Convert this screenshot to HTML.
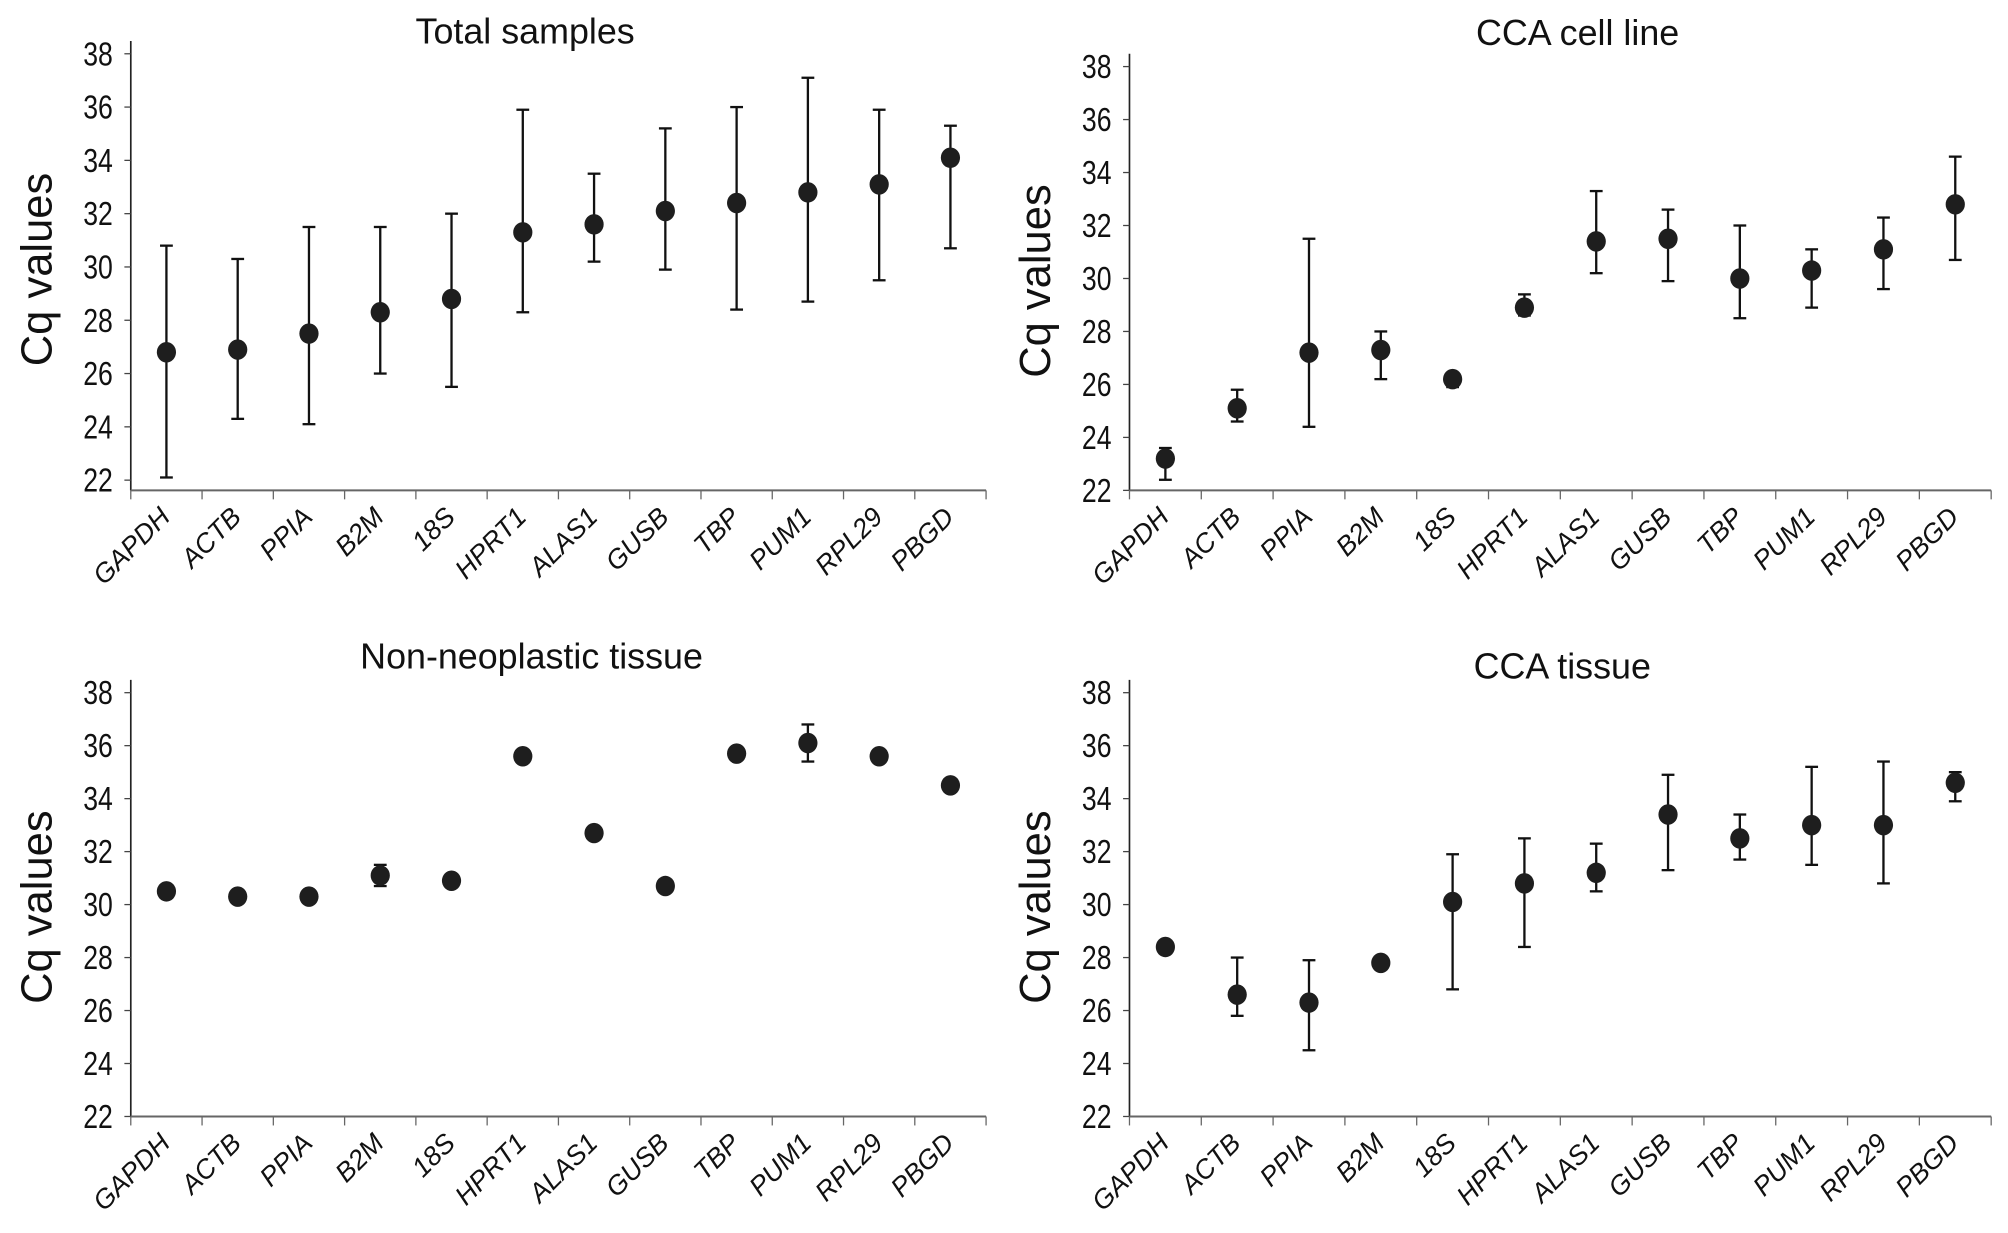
<!DOCTYPE html>
<html><head><meta charset="utf-8"><style>
html,body{margin:0;padding:0;background:#fff;}
svg{display:block;font-family:"Liberation Sans",sans-serif;}
</style></head><body>
<svg id="chart" width="2008" height="1233" viewBox="0 0 1568 963" xmlns="http://www.w3.org/2000/svg"></svg>
<script>
const categories = ["GAPDH","ACTB","PPIA","B2M","18S","HPRT1","ALAS1","GUSB","TBP","PUM1","RPL29","PBGD"];
const yTicks = [22,24,26,28,30,32,34,36,38];
const totalMean = [26.8,26.9,27.5,28.3,28.8,31.3,31.6,32.1,32.4,32.8,33.1,34.1];
const totalLow  = [22.1,24.3,24.1,26.0,25.5,28.3,30.2,29.9,28.4,28.7,29.5,30.7];
const totalHigh = [30.8,30.3,31.5,31.5,32.0,35.9,33.5,35.2,36.0,37.1,35.9,35.3];
const cellMean = [23.2,25.1,27.2,27.3,26.2,28.9,31.4,31.5,30.0,30.3,31.1,32.8];
const cellLow  = [22.4,24.6,24.4,26.2,25.9,28.6,30.2,29.9,28.5,28.9,29.6,30.7];
const cellHigh = [23.6,25.8,31.5,28.0,26.4,29.4,33.3,32.6,32.0,31.1,32.3,34.6];
const nonMean = [30.5,30.3,30.3,31.1,30.9,35.6,32.7,30.7,35.7,36.1,35.6,34.5];
const nonLow  = [30.5,30.3,30.3,30.7,30.9,35.6,32.7,30.7,35.7,35.4,35.6,34.5];
const nonHigh = [30.5,30.3,30.3,31.5,30.9,35.6,32.7,30.7,35.7,36.8,35.6,34.5];
const tisMean = [28.4,26.6,26.3,27.8,30.1,30.8,31.2,33.4,32.5,33.0,33.0,34.6];
const tisLow  = [28.4,25.8,24.5,27.8,26.8,28.4,30.5,31.3,31.7,31.5,30.8,33.9];
const tisHigh = [28.4,28.0,27.9,27.8,31.9,32.5,32.3,34.9,33.4,35.2,35.4,35.0];

const NS="http://www.w3.org/2000/svg";
const svg=document.getElementById('chart');
function mk(tag,attrs,parent){const e=document.createElementNS(NS,tag);for(const k in attrs)e.setAttribute(k,attrs[k]);(parent||svg).appendChild(e);return e;}

function panel(key,title,titleX,titleY,x0,x1,y38,y22,axisY,mean,low,high){
  const g=mk('g',{});
  
  
  const yS=v=>y22+(v-22)*(y38-y22)/16;
  const band=(x1-x0)/categories.length;
  const xS=i=>x0+band*(i+0.5);
  const t=mk('text',{x:titleX,y:titleY,'text-anchor':'middle','font-size':28,fill:'#111'},g);
  t.textContent=title;
  
  
  const yl=mk('text',{x:0,y:0,'text-anchor':'middle','font-size':34,fill:'#111',transform:`translate(${x0-62},${(y38+y22)/2+2}) rotate(-90)`},g);
  yl.textContent='Cq values';
  
  
  const ya=mk('line',{x1:x0,x2:x0,y1:y38-10,y2:axisY,stroke:'#222','stroke-width':1.3},g);
  
  
  const xa=mk('line',{x1:x0,x2:x1,y1:axisY,y2:axisY,stroke:'#666','stroke-width':1.5},g);
  
  
  yTicks.forEach(v=>{
    const y=yS(v);
    mk('line',{x1:x0-5,x2:x0,y1:y,y2:y,stroke:'#444','stroke-width':1},g);
    const tl=mk('text',{x:x0-14,y:y+9,'text-anchor':'end','font-size':26,fill:'#111',transform:`translate(${x0-14},0) scale(0.8,1) translate(${-(x0-14)},0)`},g);
    tl.textContent=v;
    
    
  });
  for(let i=0;i<=categories.length;i++){
    const x=x0+band*i;
    mk('line',{x1:x,x2:x,y1:axisY,y2:axisY+7,stroke:'#666','stroke-width':1},g);
  }
  categories.forEach((c,i)=>{
    const x=xS(i)+4, y=axisY+22;
    const tl=mk('text',{x:0,y:0,'text-anchor':'end','font-size':21,'font-style':'italic',fill:'#111',transform:`translate(${x},${y}) rotate(-45)`},g);
    tl.textContent=c;
    
    
    const cx=xS(i);
    if(high[i]-low[i]>0.05){
      const eb=mk('g',{stroke:'#111','stroke-width':1.8},g);
      
      
      mk('line',{x1:cx,x2:cx,y1:yS(high[i]),y2:yS(low[i])},eb);
      mk('line',{x1:cx-5,x2:cx+5,y1:yS(high[i]),y2:yS(high[i])},eb);
      mk('line',{x1:cx-5,x2:cx+5,y1:yS(low[i]),y2:yS(low[i])},eb);
    }
    const p=mk('ellipse',{cx:cx,cy:yS(mean[i]),rx:7.5,ry:8,fill:'#1e1e1e'},g);
    
    
  });
}
panel('total-samples','Total samples',410,34,102,770,42,375,383,totalMean,totalLow,totalHigh);
panel('cca-cell-line','CCA cell line',1232,35,882,1555,52,383,383,cellMean,cellLow,cellHigh);
panel('non-neoplastic-tissue','Non-neoplastic tissue',415,522,102,770,541,872,872,nonMean,nonLow,nonHigh);
panel('cca-tissue','CCA tissue',1220,530,882,1555,541,872,872,tisMean,tisLow,tisHigh);
</script>
</body></html>
